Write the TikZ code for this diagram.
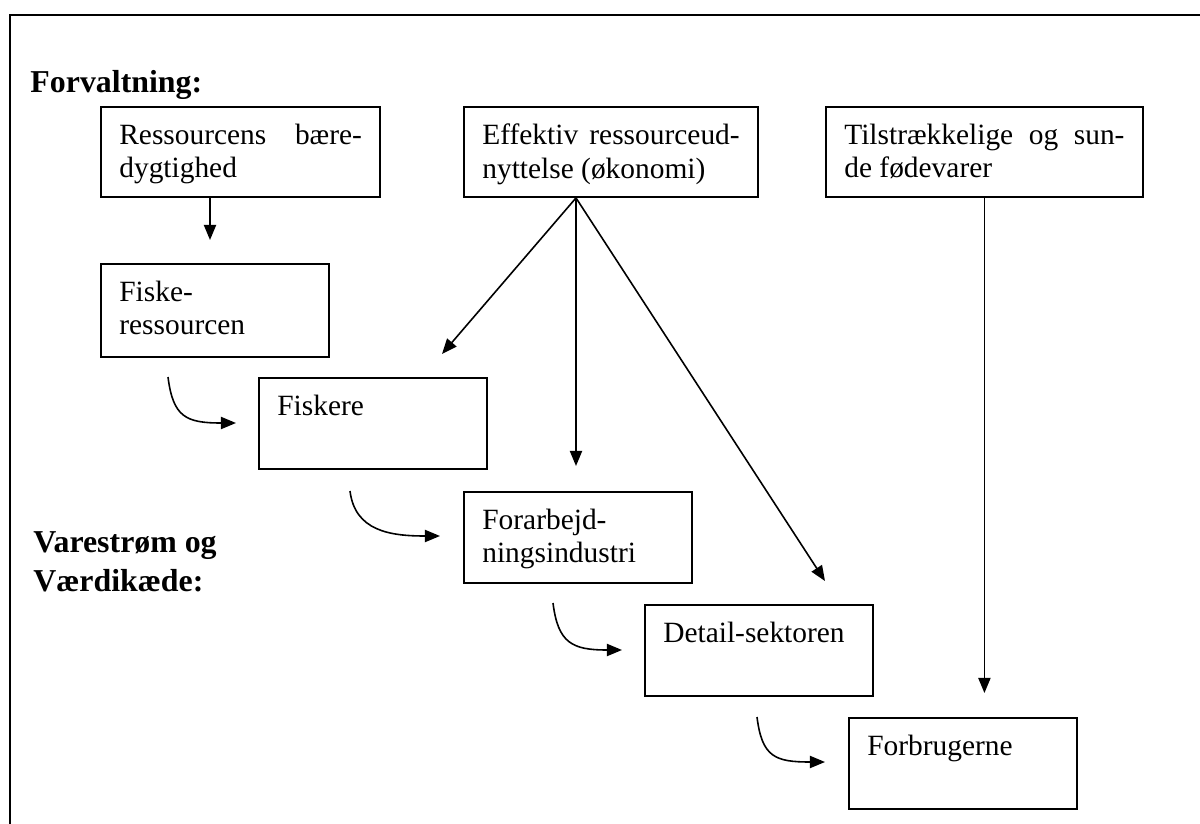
\documentclass[tikz,border=0pt]{standalone}
\usepackage{fontspec}
\setmainfont{Liberation Serif}
\usetikzlibrary{arrows.meta}

\newcommand{\boxtext}[3]{\parbox[c][#2][t]{#1}{#3}}

\begin{document}
\begin{tikzpicture}[x=0.408pt, y=-0.408pt,
	box/.style={draw, line width=0.8pt, anchor=north west, inner xsep=7.5pt, inner ysep=7pt, font=\fontsize{12}{13.6}\selectfont},
	head/.style={inner sep=0pt, font=\bfseries\fontsize{13}{16}\selectfont},
	arr/.style={line width=0.65pt, -{Triangle[length=6.2pt,width=5pt]}}]
	\useasboundingbox (0,0) rectangle (1200,824);
	%frame
		\draw[line width=0.8pt] (10,830) -- (10,15) -- (1210,15);
		
	%headings
		\node[head, anchor=base west] (forv) at (30,92){Forvaltning:};
		\node[head, anchor=north west, align=left] (vare) at (33,531){Varestrøm og\\Værdikæde:};
		
	%boxes
		\node[box] (res) at (100,106){\boxtext{99pt}{22.7pt}{Ressourcens\hfill bære-\\dygtighed}};
		\node[box] (eff) at (463,106){\boxtext{105pt}{22.7pt}{Effektiv\hfill ressourceud-\\nyttelse (økonomi)}};
		\node[box] (fod) at (825,106){\boxtext{114.3pt}{22.7pt}{Tilstrækkelige\hfill og\hfill sun-\\de fødevarer}};
		\node[box] (fres) at (100,263){\boxtext{78pt}{23.9pt}{Fiske-\\ressourcen}};
		\node[box] (fisk) at (258,377){\boxtext{78pt}{23.1pt}{Fiskere}};
		\node[box] (forarb) at (463,491){\boxtext{78pt}{23.1pt}{Forarbejd-\\ningsindustri}};
		\node[box] (detail) at (644,604){\boxtext{78pt}{23.1pt}{Detail-sektoren}};
		\node[box] (forbr) at (848,717){\boxtext{78pt}{23.1pt}{Forbrugerne}};
		
	%straight arrows
		\coordinate (t1) at (210,240);
		\coordinate (t2) at (442,354);
		\coordinate (t3) at (576,466);
		\coordinate (t4) at (825,581);
		\coordinate (t5) at (984,693);
		\draw[arr] (res.south -| t1) -- (t1);
		\foreach \t in {t2, t3, t4}{
			\draw[arr] (eff.south -| t3) -- (\t);
		}
		\draw[arr] (fod.south) -- (fod.south |- t5);
		
	%curved arrows
		\coordinate (c1a) at (168,377);
		\coordinate (c1b) at (236,423);
		\coordinate (c2a) at (350,491);
		\coordinate (c2b) at (440,536);
		\coordinate (c3a) at (553,603);
		\coordinate (c3b) at (622,650);
		\coordinate (c4a) at (757,717);
		\coordinate (c4b) at (825,762);
		\foreach \i in {1, 2, 3, 4}{
			\draw[arr] (c\i a) .. controls +(5,40) and +(-50,0) .. (c\i b);
		}
	\end{tikzpicture}
\end{document}
